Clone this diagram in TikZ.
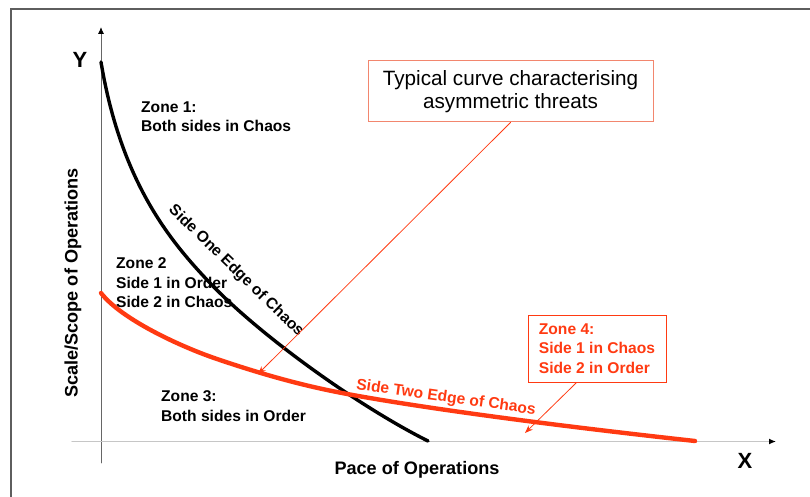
\documentclass[tikz,border=0pt]{standalone}
\usepackage{fontspec}
\setmainfont{Liberation Sans}
\usetikzlibrary{arrows.meta}
\definecolor{chaosred}{HTML}{FF3A12}
\definecolor{boxred}{HTML}{F2866E}
\definecolor{framegray}{HTML}{5E5E5E}

\begin{document}
\begin{tikzpicture}
     [x=1pt,y=-1pt,line cap=round,
      % Styles
        frame line/.style={framegray,line width=2pt,line cap=butt},
        y axis/.style={gray!80!black,line width=0.9pt,-{Latex[black,length=7pt,width=6pt]}},
        x axis/.style={gray!45,line width=1.3pt,-{Latex[black,length=7pt,width=6pt]}},
        axis label/.style={font=\fontsize{22}{26}\selectfont\bfseries,inner sep=0pt},
        title text/.style={font=\fontsize{18.1}{22}\selectfont\bfseries,inner sep=0pt},
        zone text/.style={font=\fontsize{15.6}{19.5}\selectfont\bfseries,align=left,inner sep=0pt,anchor=west},
        edge one/.style={line width=3.4pt},
        edge two/.style={chaosred,line width=4.4pt},
        pointer/.style={chaosred,line width=0.8pt,-{Stealth[length=8pt,width=6pt]}},
        note box/.style={draw=boxred,line width=1pt}]
    \useasboundingbox (0,0) rectangle (810,497);
    % frame round the slide
    \draw[frame line] (11,497) -- (11,9) -- (810,9);
    \begin{scope}
      \draw[y axis] (101,463) -- (101,27);
      \draw[x axis] (72,441.5) -- (776,441.5);
      \node[axis label] (ylabel) at (80,60) {Y};
      \node[axis label] (xlabel) at (745,461) {X};
      \node[title text] (xtitle) at (417,470) {Pace of Operations};
      \node[title text,rotate=90] (ytitle) at (73,283) {Scale/Scope of Operations};
    \end{scope}
    % the two edges of chaos
    \coordinate (one start) at (101,62);
    \coordinate (one mid) at (210,283);
    \coordinate (one end) at (428,441);
    \draw[edge one] (one start) .. controls (121,182) and (170,241) .. (one mid)
      .. controls (260,335.5) and (358,406) .. (one end);
    \coordinate (two start) at (101,293);
    \coordinate (two bend) at (217,359);
    \coordinate (two cross) at (342,393);
    \coordinate (two end) at (695,441);
    \draw[edge two] (two start) .. controls (121,319) and (180,346.5) .. (two bend)
      .. controls (260,373.6) and (300,385) .. (two cross)
      .. controls (420,407.8) and (550,425) .. (two end);
    \node[zone text,rotate=-44,anchor=center] (sideone) at (236,271) {Side One Edge of Chaos};
    \node[zone text,rotate=-8,anchor=center,chaosred] (sidetwo) at (446,398) {Side Two Edge of Chaos};
    % zones
    \node[zone text] (zone1) at (141,116.5) {Zone 1:\\Both sides in Chaos};
    \node[zone text] (zone2) at (116,283) {Zone 2\\Side 1 in Order\\Side 2 in Chaos};
    \node[zone text] (zone3) at (161,406) {Zone 3:\\Both sides in Order};
    \node[note box,zone text,anchor=center,chaosred,minimum width=138,minimum height=67]
      (zone4) at (597,348.5) {Zone 4:\\Side 1 in Chaos\\Side 2 in Order};
    \node[note box,align=center,font=\fontsize{20.7}{23}\selectfont,minimum width=285,minimum height=61]
      (typical) at (510.5,91.5) {Typical curve characterising\\asymmetric threats};
    % pointers onto the red curve
    \coordinate (tiptypical) at (258,374);
    \coordinate (tipzone4) at (525,433);
    \draw[pointer] (typical.south) -- (tiptypical);
    \draw[pointer] (zone4.239) -- (tipzone4);
  \end{tikzpicture}
\end{document}
